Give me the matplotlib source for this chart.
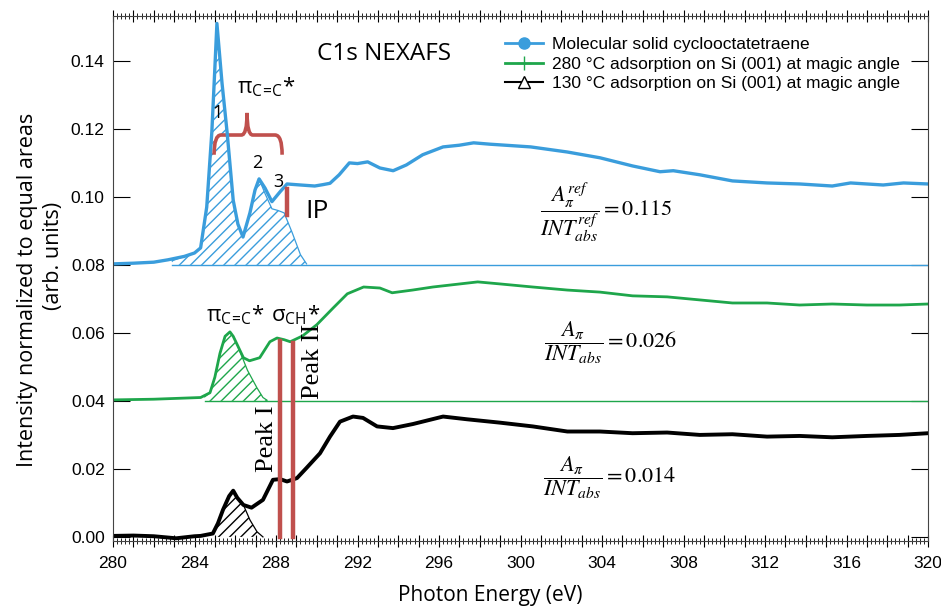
import numpy as np
import matplotlib
matplotlib.use('Agg')
import matplotlib.pyplot as plt
from matplotlib.ticker import MultipleLocator, FuncFormatter
from matplotlib.lines import Line2D
from matplotlib.path import Path
from matplotlib.patches import PathPatch

# ---- data (energy in eV, intensity) ----
# molecular solid COT (offset to 0.08)
blue_x = [280.0, 281.0, 282.0, 282.7, 283.5, 284.0, 284.3, 284.6, 284.85, 285.0, 285.1, 285.35,
          285.6, 285.9, 286.13, 286.38, 286.72, 286.97, 287.17, 287.46, 287.8, 288.2, 288.54,
          289.2, 289.9, 290.3, 290.65, 291.1, 291.6, 292.0, 292.5, 293.1, 293.75, 294.4, 295.2,
          296.2, 297.0, 297.7, 298.5, 299.0, 300.5, 302.3, 303.9, 305.5, 306.85, 307.5, 308.8,
          310.4, 312.1, 313.7, 315.3, 316.2, 317.8, 318.8, 320.0]
blue_y = [0.0803, 0.0805, 0.0808, 0.0815, 0.0825, 0.0835, 0.0850, 0.0970, 0.1190, 0.1380, 0.1510, 0.1335,
          0.1190, 0.0990, 0.0920, 0.0882, 0.0953, 0.1020, 0.1053, 0.1026, 0.0986, 0.1015, 0.1038,
          0.1035, 0.1032, 0.1036, 0.1040, 0.1065, 0.1100, 0.1098, 0.1103, 0.1085, 0.1077, 0.1094, 0.1124,
          0.1147, 0.1152, 0.1159, 0.1155, 0.1153, 0.1147, 0.1132, 0.1115, 0.1091, 0.1074, 0.1077, 0.1065,
          0.1047, 0.1041, 0.1038, 0.1032, 0.1041, 0.1035, 0.1041, 0.1038]
blue_fill_x = [282.9, 283.5, 284.0, 284.3, 284.6, 284.85, 285.0, 285.1, 285.35, 285.6, 285.9, 286.13,
               286.38, 286.72, 286.97, 287.17, 287.46, 287.8, 288.1, 288.4, 288.8, 289.2, 289.5]
blue_fill_y = [0.0812, 0.0825, 0.0835, 0.0850, 0.0970, 0.1190, 0.1380, 0.1510, 0.1335, 0.1190, 0.0990, 0.0920,
               0.0882, 0.0953, 0.1020, 0.1053, 0.1010, 0.0965, 0.0960, 0.0953, 0.0894, 0.0830, 0.0803]

# 280 C adsorption (offset to 0.04)
green_x = [280.0, 282.0, 284.3, 284.76, 285.0, 285.25, 285.5, 285.74, 285.9, 286.1, 286.4, 286.7,
           287.2, 287.7, 288.05, 288.4, 288.7, 289.3, 290.0, 290.8, 291.5, 292.3, 293.1, 293.7,
           294.7, 295.7, 297.9, 299.0, 300.6, 302.3, 303.9, 305.5, 307.2, 308.8, 310.4, 312.1,
           313.7, 315.3, 317.0, 318.6, 320.0]
green_y = [0.0403, 0.0405, 0.0410, 0.0424, 0.0470, 0.0540, 0.0590, 0.0603, 0.0590, 0.0565, 0.0527, 0.0518,
           0.0527, 0.0574, 0.0585, 0.0580, 0.0574, 0.0591, 0.0624, 0.0673, 0.0715, 0.0735, 0.0732, 0.0718,
           0.0726, 0.0735, 0.0750, 0.0744, 0.0735, 0.0726, 0.0720, 0.0709, 0.0706, 0.0697, 0.0688, 0.0688,
           0.0682, 0.0685, 0.0682, 0.0682, 0.0685]
green_fill_x = [284.5, 284.76, 285.0, 285.25, 285.5, 285.74, 285.9, 286.1, 286.6, 287.07, 287.36, 287.56]
green_fill_y = [0.0412, 0.0424, 0.0470, 0.0540, 0.0590, 0.0603, 0.0590, 0.0565, 0.0490, 0.0438, 0.0410, 0.0402]

# 130 C adsorption
black_x = [280.0, 281.0, 282.0, 283.1, 284.0, 284.3, 284.9, 285.15, 285.4, 285.7, 285.9, 286.1,
           286.4, 286.8, 287.36, 287.85, 288.2, 288.54, 289.03, 289.5, 290.16, 290.65, 291.14, 291.78,
           292.27, 292.96, 293.74, 294.72, 296.2, 297.37, 299.0, 300.6, 302.3, 303.9, 305.5, 307.2,
           308.8, 310.4, 312.1, 313.7, 315.3, 317.0, 318.6, 320.0]
black_y = [0.0003, 0.0004, 0.0002, -0.0004, 0.0002, 0.0003, 0.0010, 0.0040, 0.0080, 0.0120, 0.0136, 0.0115,
           0.0094, 0.0086, 0.0109, 0.0168, 0.0170, 0.0163, 0.0173, 0.0203, 0.0246, 0.0295, 0.0339, 0.0354,
           0.0350, 0.0325, 0.0320, 0.0332, 0.0354, 0.0346, 0.0336, 0.0325, 0.0310, 0.0310, 0.0305, 0.0307,
           0.0300, 0.0302, 0.0295, 0.0297, 0.0293, 0.0297, 0.0300, 0.0305]
black_fill_x = [284.9, 285.15, 285.4, 285.7, 285.9, 286.1, 286.4, 286.72, 287.07, 287.36]
black_fill_y = [0.0010, 0.0040, 0.0080, 0.0120, 0.0136, 0.0115, 0.0094, 0.0050, 0.0015, 0.0000]

offsets = [0.08, 0.04, 0.0]
labels = ['Molecular solid cyclooctatetraene',
          '280 \u00b0C adsorption on Si (001) at magic angle',
          '130 \u00b0C adsorption on Si (001) at magic angle']
ratios = ['0.115', '0.026', '0.014']
peak_lines = [288.2, 288.83]   # Peak I, Peak II
ip_energy = 288.55

blue = '#3a9ddc'
green = '#1ea64b'
red = '#c0504d'

plt.rcParams['font.family'] = ['Liberation Sans', 'DejaVu Sans']
plt.rcParams['mathtext.fontset'] = 'stix'
plt.rcParams['hatch.linewidth'] = 1.0

fig = plt.figure(figsize=(9.41, 6.08), dpi=100)
ax = fig.add_axes([113/941, 1-541/608, 815/941, 525/608])

# hatched pi* areas
ax.fill_between(blue_fill_x, offsets[0], blue_fill_y, facecolor='none', edgecolor=blue, hatch='///', linewidth=0)
ax.fill_between(green_fill_x, offsets[1], green_fill_y, facecolor='none', edgecolor=green, hatch='///', linewidth=0)
ax.fill_between(black_fill_x, offsets[2], black_fill_y, facecolor='none', edgecolor='k', hatch='///', linewidth=0)
ax.plot(blue_fill_x, blue_fill_y, color=blue, lw=0.9)
ax.plot(green_fill_x, green_fill_y, color=green, lw=0.9)
ax.plot(black_fill_x, black_fill_y, color='k', lw=0.9)

# baselines
ax.plot([blue_fill_x[0], 320], [offsets[0]]*2, color=blue, lw=1.0)
ax.plot([green_fill_x[0], 320], [offsets[1]]*2, color=green, lw=1.0)

# spectra
ax.plot(blue_x, blue_y, color=blue, lw=2.4)
ax.plot(green_x, green_y, color=green, lw=2.0)
ax.plot(black_x, black_y, color='k', lw=2.8)

# red markers
for e in peak_lines:
    ax.plot([e, e], [0, np.interp(e, green_x, green_y) - 0.0008], color=red, lw=3.2)
ax.plot([ip_energy, ip_energy], [0.0947, 0.1024], color=red, lw=3.2)

# curly bracket over pi* peaks
verts = [(284.96, 0.1124), (284.96, 0.1182), (285.3, 0.1182), (286.3, 0.1182), (286.58, 0.1182),
         (286.58, 0.1247), (286.58, 0.1182), (286.86, 0.1182), (287.95, 0.1182), (288.3, 0.1182),
         (288.3, 0.1124)]
codes = [Path.MOVETO, Path.CURVE3, Path.CURVE3, Path.LINETO, Path.CURVE3, Path.CURVE3,
         Path.CURVE3, Path.CURVE3, Path.LINETO, Path.CURVE3, Path.CURVE3]
ax.add_patch(PathPatch(Path(verts, codes), facecolor='none', edgecolor=red, lw=2.6))

# annotations
sans = 'Open Sans'
pi_cc = r'π$_{\mathregular{C\!=\!C}}$*'
ax.text(293.3, 0.1420, 'C1s NEXAFS', fontsize=17.5, family=sans, ha='center', va='center')
ax.text(287.5, 0.1325, pi_cc, fontsize=16, family=sans, ha='center', va='center')
ax.text(285.15, 0.1247, '1', fontsize=13, family=sans, ha='center', va='center')
ax.text(287.1, 0.1100, '2', fontsize=13, family=sans, ha='center', va='center')
ax.text(288.1, 0.1044, '3', fontsize=13, family=sans, ha='center', va='center')
ax.text(290.0, 0.0956, 'IP', fontsize=19, family=sans, ha='center', va='center')
ax.text(286.0, 0.0655, pi_cc, fontsize=16, family=sans, ha='center', va='center')
ax.text(288.95, 0.0655, r'σ$_{\mathregular{CH}}$*', fontsize=16, family=sans, ha='center', va='center')
ax.text(287.55, 0.0290, 'Peak I', fontsize=19, family='Liberation Serif', rotation=90, ha='center', va='center')
ax.text(289.8, 0.0515, 'Peak II', fontsize=19, family='Liberation Serif', rotation=90, ha='center', va='center')

ax.text(304.2, 0.0953, r'$\dfrac{A_{\pi}^{ref}}{INT_{abs}^{ref}} = %s$' % ratios[0], fontsize=16, ha='center', va='center')
ax.text(304.4, 0.0573, r'$\dfrac{A_{\pi}}{INT_{abs}} = %s$' % ratios[1], fontsize=16, ha='center', va='center')
ax.text(304.4, 0.0174, r'$\dfrac{A_{\pi}}{INT_{abs}} = %s$' % ratios[2], fontsize=16, ha='center', va='center')

# legend
handles = [Line2D([], [], color=blue, lw=2, marker='o', ms=8),
           Line2D([], [], color=green, lw=2, marker='+', ms=10, mew=1),
           Line2D([], [], color='k', lw=1.5, marker='^', ms=9, mfc='white', mec='k')]
ax.legend(handles, labels, loc='upper left', bbox_to_anchor=(0.481, 0.96), frameon=False,
          fontsize=12.5, borderpad=0, borderaxespad=0, handlelength=2.2, handletextpad=0.5,
          labelspacing=0.25)

# axes
ax.set_xlim(280, 320)
ax.set_ylim(-0.0012, 0.1532)
ax.xaxis.set_major_locator(MultipleLocator(1))
ax.xaxis.set_minor_locator(MultipleLocator(0.2))
ax.xaxis.set_major_formatter(FuncFormatter(lambda v, p: '%d' % v if round(v) % 4 == 0 else ''))
ax.yaxis.set_major_locator(MultipleLocator(0.02))
ax.yaxis.set_major_formatter(FuncFormatter(lambda v, p: '%.2f' % v))
ax.tick_params(axis='x', which='major', direction='inout', length=9, top=True, labelsize=12.5, pad=6)
ax.tick_params(axis='x', which='minor', direction='inout', length=5, top=True)
ax.tick_params(axis='y', direction='in', length=12, right=True, labelsize=12.5, pad=6)
for s in ax.spines.values():
    s.set_color('#444444')

fig.text(490/941, 1-596/608, 'Photon Energy (eV)', fontsize=15, family=sans, ha='center', va='center')
fig.text(28/941, 1-290/608, 'Intensity normalized to equal areas', fontsize=15.5, family=sans,
         rotation=90, ha='center', va='center')
fig.text(53/941, 1-256/608, '(arb. units)', fontsize=15.5, family=sans, rotation=90, ha='center', va='center')

plt.savefig('out.png', dpi=100)
